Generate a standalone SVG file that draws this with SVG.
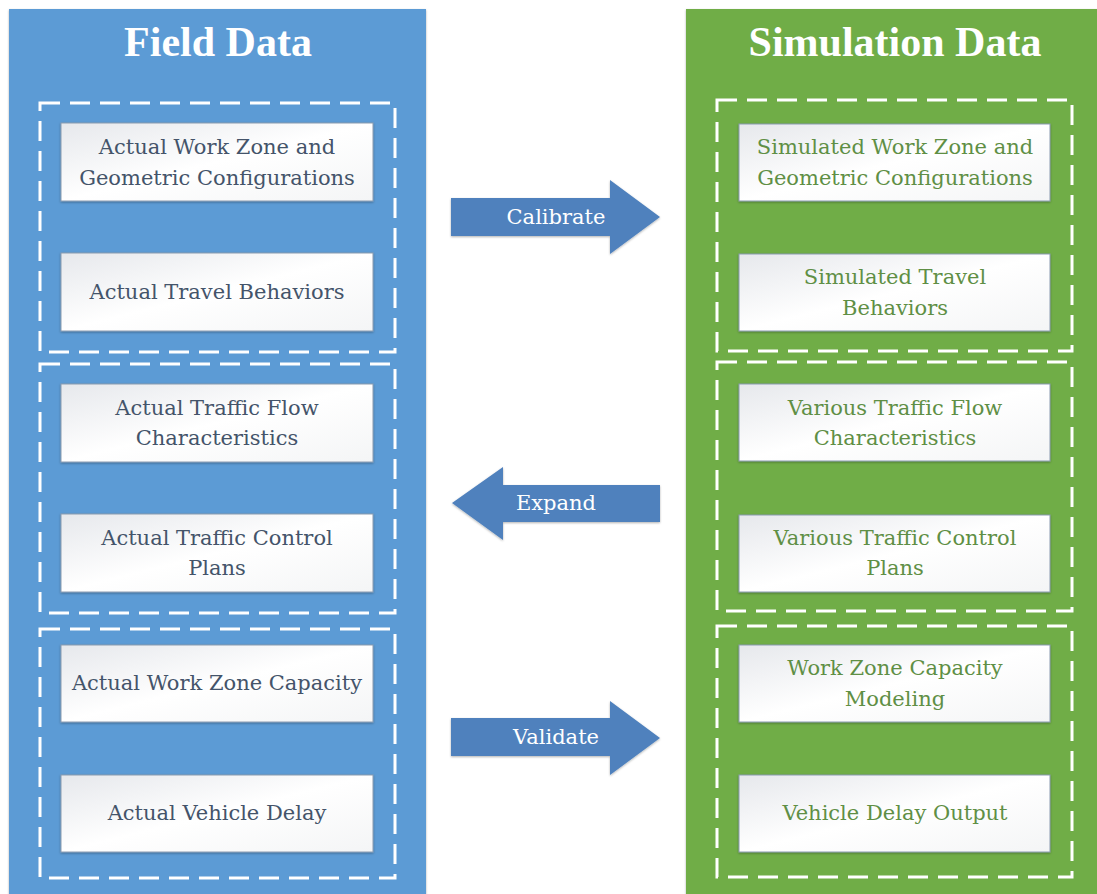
<svg xmlns="http://www.w3.org/2000/svg" width="1097" height="894" viewBox="0 0 1097 894">
<defs>
<linearGradient id="bg" x1="0" y1="0" x2="1" y2="1">
<stop offset="0" stop-color="#e6e8ec"/>
<stop offset="0.5" stop-color="#ffffff"/>
<stop offset="1" stop-color="#f4f5f6"/>
</linearGradient>
<filter id="sh" x="-5%" y="-5%" width="110%" height="120%">
<feDropShadow dx="0" dy="1" stdDeviation="1.2" flood-color="#000" flood-opacity="0.3"/>
</filter>
<style>
.title{font-family:"Liberation Serif","DejaVu Serif",serif;font-weight:bold;font-size:42px;fill:#ffffff;text-anchor:middle}
.box{fill:url(#bg);stroke:#8a9bb0;stroke-width:1}
.grp{fill:none;stroke:#ffffff;stroke-width:3;stroke-dasharray:20 10}
.tl{font-family:"DejaVu Serif","Liberation Serif",serif;font-size:21px;fill:#44546a;text-anchor:middle}
.tr{font-family:"DejaVu Serif","Liberation Serif",serif;font-size:21px;fill:#5f8f45;text-anchor:middle}
.arr{fill:#4f81bd}
.at{font-family:"DejaVu Serif","Liberation Serif",serif;font-size:21px;fill:#ffffff;text-anchor:middle}
</style>
</defs>
<rect x="0" y="0" width="1097" height="894" fill="#ffffff"/>
<g id="field-panel">
<rect x="9" y="9" width="417" height="890" fill="#5b9bd5" filter="url(#sh)"/>
<text class="title" x="218" y="56">Field Data</text>
<rect class="grp" x="40" y="103" width="355" height="249"/>
<rect class="grp" x="40" y="364" width="355" height="249"/>
<rect class="grp" x="40" y="629" width="355" height="249"/>
</g>
<g id="sim-panel">
<rect x="686" y="9" width="420" height="890" fill="#70ad47" filter="url(#sh)"/>
<text class="title" x="895" y="56">Simulation Data</text>
<rect class="grp" x="717" y="100" width="355" height="251"/>
<rect class="grp" x="717" y="362" width="355" height="249"/>
<rect class="grp" x="717" y="626" width="355" height="251"/>
</g>
<g id="n-actual-wz"><rect class="box" x="61" y="123" width="312" height="78" filter="url(#sh)"/><text class="tl" x="217" y="154">Actual Work Zone and</text><text class="tl" x="217" y="185">Geometric Configurations</text></g>
<g id="n-actual-tb"><rect class="box" x="61" y="253" width="312" height="78" filter="url(#sh)"/><text class="tl" x="217" y="299">Actual Travel Behaviors</text></g>
<g id="n-actual-tf"><rect class="box" x="61" y="384" width="312" height="78" filter="url(#sh)"/><text class="tl" x="217" y="415">Actual Traffic Flow</text><text class="tl" x="217" y="445">Characteristics</text></g>
<g id="n-actual-tc"><rect class="box" x="61" y="514" width="312" height="78" filter="url(#sh)"/><text class="tl" x="217" y="545">Actual Traffic Control</text><text class="tl" x="217" y="575">Plans</text></g>
<g id="n-actual-cap"><rect class="box" x="61" y="645" width="312" height="77" filter="url(#sh)"/><text class="tl" x="217" y="690">Actual Work Zone Capacity</text></g>
<g id="n-actual-delay"><rect class="box" x="61" y="775" width="312" height="77" filter="url(#sh)"/><text class="tl" x="217" y="820">Actual Vehicle Delay</text></g>
<g id="n-sim-wz"><rect class="box" x="739" y="124" width="311" height="77" filter="url(#sh)"/><text class="tr" x="895" y="154">Simulated Work Zone and</text><text class="tr" x="895" y="185">Geometric Configurations</text></g>
<g id="n-sim-tb"><rect class="box" x="739" y="254" width="311" height="77" filter="url(#sh)"/><text class="tr" x="895" y="284">Simulated Travel</text><text class="tr" x="895" y="315">Behaviors</text></g>
<g id="n-sim-tf"><rect class="box" x="739" y="384" width="311" height="77" filter="url(#sh)"/><text class="tr" x="895" y="415">Various Traffic Flow</text><text class="tr" x="895" y="445">Characteristics</text></g>
<g id="n-sim-tc"><rect class="box" x="739" y="515" width="311" height="77" filter="url(#sh)"/><text class="tr" x="895" y="545">Various Traffic Control</text><text class="tr" x="895" y="575">Plans</text></g>
<g id="n-sim-cap"><rect class="box" x="739" y="645" width="311" height="77" filter="url(#sh)"/><text class="tr" x="895" y="675">Work Zone Capacity</text><text class="tr" x="895" y="706">Modeling</text></g>
<g id="n-sim-delay"><rect class="box" x="739" y="775" width="311" height="77" filter="url(#sh)"/><text class="tr" x="895" y="820">Vehicle Delay Output</text></g>
<g id="connectors">
<g id="calibrate"><polygon class="arr" points="451,198 610,198 610,180 660,217 610,254 610,236 451,236" filter="url(#sh)"/><text class="at" x="556" y="224">Calibrate</text></g>
<g id="expand"><polygon class="arr" points="660,485 503,485 503,467 452,503 503,540 503,522 660,522" filter="url(#sh)"/><text class="at" x="556" y="510">Expand</text></g>
<g id="validate"><polygon class="arr" points="451,718 610,718 610,701 660,738 610,775 610,756 451,756" filter="url(#sh)"/><text class="at" x="556" y="744">Validate</text></g>
</g>
</svg>
